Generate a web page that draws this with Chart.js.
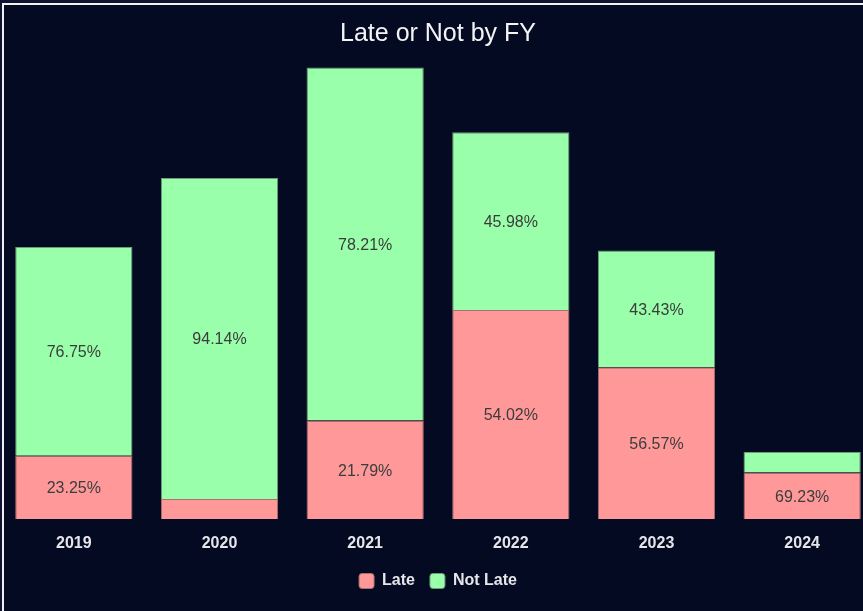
<!DOCTYPE html>
<html>
<head>
<meta charset="utf-8">
<script src="https://cdn.jsdelivr.net/npm/chart.js@4.4.1/dist/chart.umd.min.js"></script>
<style>
  html, body { margin:0; padding:0; width:863px; height:611px; overflow:hidden; background:#0d1330; }
  #frame { position:absolute; left:2px; top:3px; width:900px; height:700px; background:#030a22; border-left:2px solid #f2f2f6; border-top:2px solid #f2f2f6; box-sizing:border-box; }
  #wrap { position:absolute; left:0; top:0; width:876px; height:611px; }
</style>
</head>
<body>
<div id="frame"></div>
<div id="wrap"><canvas id="c" width="876" height="611"></canvas></div>
<script>
// Fiscal years
const years = ['2019', '2020', '2021', '2022', '2023', '2024'];
// Bar amounts
const lateValues    = [31.6, 10.0, 49.2, 104.5, 75.9, 23.2];
const notLateValues = [104.4, 160.5, 176.5, 88.9, 58.3, 10.3];
// Percent labels shown in each segment
const latePctLabels    = ['23.25%', '5.86%', '21.79%', '54.02%', '56.57%', '69.23%'];
const notLatePctLabels = ['76.75%', '94.14%', '78.21%', '45.98%', '43.43%', '30.77%'];

const segLabels = [latePctLabels, notLatePctLabels];

const labelPlugin = {
  id: 'segLabels',
  afterDatasetsDraw(chart) {
    const ctx = chart.ctx;
    ctx.save();
    ctx.font = '16px "Liberation Sans", Arial, sans-serif';
    ctx.fillStyle = '#3c3c3c';
    ctx.textAlign = 'center';
    ctx.textBaseline = 'middle';
    chart.data.datasets.forEach((ds, di) => {
      const meta = chart.getDatasetMeta(di);
      meta.data.forEach((bar, i) => {
        const h = Math.abs(bar.base - bar.y);
        if (h < 25) return;
        ctx.fillText(segLabels[di][i], bar.x, (bar.y + bar.base) / 2 + 1.5);
      });
    });
    ctx.restore();
  }
};

new Chart(document.getElementById('c'), {
  type: 'bar',
  data: {
    labels: years,
    datasets: [
      { label: 'Late', data: lateValues, backgroundColor: '#ff9999', borderColor: '#a9706f', borderWidth: 1 },
      { label: 'Not Late', data: notLateValues, backgroundColor: '#99ffaa', borderColor: '#6e9c78', borderWidth: 1 }
    ]
  },
  options: {
    responsive: false,
    animation: false,
    layout: { padding: { left: 1, right: 1, top: 4, bottom: 12 } },
    datasets: { bar: { categoryPercentage: 0.805, barPercentage: 1.0 } },
    scales: {
      x: {
        stacked: true,
        grid: { display: false, drawTicks: false },
        border: { display: false },
        ticks: { color: '#e6e6ea', font: { family: '"Liberation Sans", Arial, sans-serif', size: 16, weight: 'bold' }, padding: 15 },
        afterFit(scale) { scale.height = 39; }
      },
      y: {
        stacked: true,
        display: false,
        min: 0,
        max: 230
      }
    },
    plugins: {
      title: {
        display: true,
        text: 'Late or Not by FY',
        color: '#f4f4f6',
        font: { family: '"Liberation Sans", Arial, sans-serif', size: 25, weight: 'normal' },
        padding: { top: 15, bottom: 10 }
      },
      legend: {
        position: 'bottom',
        labels: {
          color: '#e6e6ea',
          font: { family: '"Liberation Sans", Arial, sans-serif', size: 16, weight: 'bold' },
          boxWidth: 15, boxHeight: 15,
          useBorderRadius: true, borderRadius: 3,
          padding: 15
        }
      },
      tooltip: { enabled: false }
    }
  },
  plugins: [labelPlugin]
});
</script>
</body>
</html>
